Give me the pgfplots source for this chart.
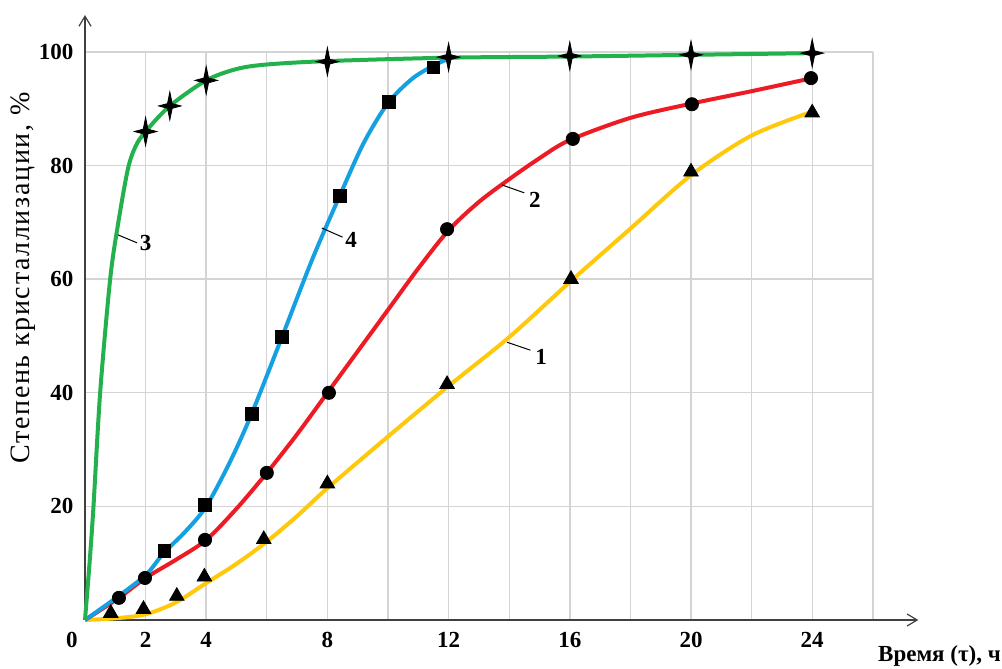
\documentclass[border=0pt]{standalone}
\usepackage{fontspec}
\setmainfont{Liberation Serif}
\newfontfamily\ylabfont[LetterSpace=6]{Liberation Serif}
\usepackage{pgfplots}
\pgfplotsset{compat=1.18}
\usetikzlibrary{arrows.meta}
\definecolor{cgreen}{RGB}{34,177,76}
\definecolor{cblue}{RGB}{20,160,225}
\definecolor{cred}{RGB}{237,28,36}
\definecolor{cyellow}{RGB}{255,200,10}
\definecolor{cgrid}{RGB}{212,212,212}
\pgfdeclareplotmark{star4}{%
 \pgfpathmoveto{\pgfpoint{0pt}{1.25\pgfplotmarksize}}%
 \pgfpathlineto{\pgfpoint{0.21\pgfplotmarksize}{0.21\pgfplotmarksize}}%
 \pgfpathlineto{\pgfpoint{\pgfplotmarksize}{0pt}}%
 \pgfpathlineto{\pgfpoint{0.21\pgfplotmarksize}{-0.21\pgfplotmarksize}}%
 \pgfpathlineto{\pgfpoint{0pt}{-1.25\pgfplotmarksize}}%
 \pgfpathlineto{\pgfpoint{-0.21\pgfplotmarksize}{-0.21\pgfplotmarksize}}%
 \pgfpathlineto{\pgfpoint{-\pgfplotmarksize}{0pt}}%
 \pgfpathlineto{\pgfpoint{-0.21\pgfplotmarksize}{0.21\pgfplotmarksize}}%
 \pgfpathclose\pgfusepathqfillstroke}
\begin{document}
\begin{tikzpicture}
\begin{axis}[
  x=15.15pt, y=2.84pt,
  xmin=0, xmax=26, ymin=0, ymax=100,
  axis line style={draw=none},
  clip=false,
  grid=major,
  major grid style={cgrid, line width=0.7pt},
  major tick length=0pt,
  xtick={2,4,...,26},
  xticklabels={2,4,,8,,12,,16,,20,,24,},
  ytick={20,40,...,100},
  ticklabel style={font=\bfseries\fontsize{11.5}{13}\selectfont},
  /pgf/number format/assume math mode=true,
  xticklabel style={yshift=-2.5pt},
  yticklabel style={xshift=-2.3pt},
]
\coordinate (O) at (axis cs:0,0);
\draw[line width=0.6pt, black!75, -{Straight Barb[length=5pt,width=6pt]}] (axis cs:0,0) -- (axis cs:27.5,0);
\draw[line width=0.6pt, black!75, -{Straight Barb[length=5pt,width=6pt]}] (axis cs:0,0) -- (axis cs:0,106.5);
% curve 1 (yellow)
\addplot[cyellow, line width=2pt, smooth, no marks] coordinates {
(0,0) (1,0.3) (2,1.0) (3,3.1) (4,6.5) (5,9.9) (6,13.8) (7,18.3) (8,23.2) (10,32.3) (12,41.2) (14,49.8) (16,59.5) (18,68.9) (20,78.3) (22,85.3) (24,89.5)};
% curve 2 (red)
\addplot[cred, line width=2pt, smooth, no marks] coordinates {
(0,0) (1.12,3.9) (2,7.4) (3,10.6) (4,14.1) (5,19.6) (6,25.9) (7,32.7) (8,40) (9,47.3) (10,54.6) (11,61.9) (12,68.6) (13,73.6) (14,77.6) (15,81.3) (16,84.5) (18,88.4) (20,90.9) (22,93.1) (24,95.4)};
% curve 4 (blue)
\addplot[cblue, line width=2pt, smooth, no marks] coordinates {
(0,0) (1,3.8) (2,7.9) (2.6,11.8) (3.3,15.5) (4,20) (4.8,28) (5.5,36.3) (6.5,49.8) (7.5,63.5) (8.4,74.6) (9.2,84) (10,91) (10.8,95.3) (11.5,97.6) (12,98.8)};
% curve 3 (green)
\addplot[cgreen, line width=2pt, smooth, no marks] coordinates {
(0,0) (0.15,10) (0.28,20) (0.5,40) (0.83,60) (1.1,70) (1.42,79.5) (1.68,83.5) (2,86) (2.8,90.5) (4,95) (5,97) (6,97.8) (8,98.4) (12,99) (16,99.2) (20,99.5) (24,99.8)};
% markers
\addplot[only marks, mark=triangle*, mark size=4.2pt, black] coordinates {
(0.85,1.2) (1.93,1.9) (3.03,4.2) (3.94,7.6) (5.9,14.2) (8,24) (11.95,41.5) (16.04,60) (20,78.9) (24,89.3)};
\addplot[only marks, mark=*, mark size=3.3pt, black] coordinates {
(1.12,3.9) (1.98,7.4) (3.96,14.1) (6,25.9) (8.05,40) (11.95,68.8) (16.1,84.7) (20.03,90.8) (23.96,95.4)};
\addplot[only marks, mark=square*, mark size=3.2pt, black] coordinates {
(2.62,12.2) (3.96,20.2) (5.5,36.3) (6.5,49.8) (8.4,74.6) (10.03,91.2) (11.5,97.3)};
\addplot[only marks, mark=star4, mark size=5.6pt, black] coordinates {
(2,86) (2.8,90.5) (4,95) (8,98.3) (12,99.1) (16,99.3) (20,99.5) (24,99.8)};
% curve labels
\draw[black, line width=0.5pt] (axis cs:13.93,48.9) -- (axis cs:14.7,47.5);
\node[font=\bfseries\fontsize{11.5}{13}\selectfont] at (axis cs:15.05,46.3) {1};
\draw[black, line width=0.5pt] (axis cs:13.76,76.6) -- (axis cs:14.5,75.2);
\node[font=\bfseries\fontsize{11.5}{13}\selectfont] at (axis cs:14.85,73.9) {2};
\draw[black, line width=0.5pt] (axis cs:1.09,67.8) -- (axis cs:1.72,66.4);
\node[font=\bfseries\fontsize{11.5}{13}\selectfont] at (axis cs:2.0,66.4) {3};
\draw[black, line width=0.5pt] (axis cs:7.82,69) -- (axis cs:8.5,67.4);
\node[font=\bfseries\fontsize{11.5}{13}\selectfont] at (axis cs:8.78,66.9) {4};
% axis texts
\node[font=\bfseries\fontsize{11.5}{13}\selectfont] at ([xshift=-6.5pt, yshift=-10pt]axis cs:0,0) {0};
\node[font=\ylabfont\fontsize{14}{16}\selectfont, rotate=90] at ([xshift=-31pt]axis cs:0,60.2) {Степень кристаллизации, \%};
\node[font=\bfseries\fontsize{11.5}{13}\selectfont] at ([yshift=-18pt]axis cs:28.2,0) {Время (τ), ч};
\end{axis}
\pgfresetboundingbox
\path (O) ++(-42.5pt,-24.5pt) rectangle ++(501pt,334.5pt);
\end{tikzpicture}
\end{document}
